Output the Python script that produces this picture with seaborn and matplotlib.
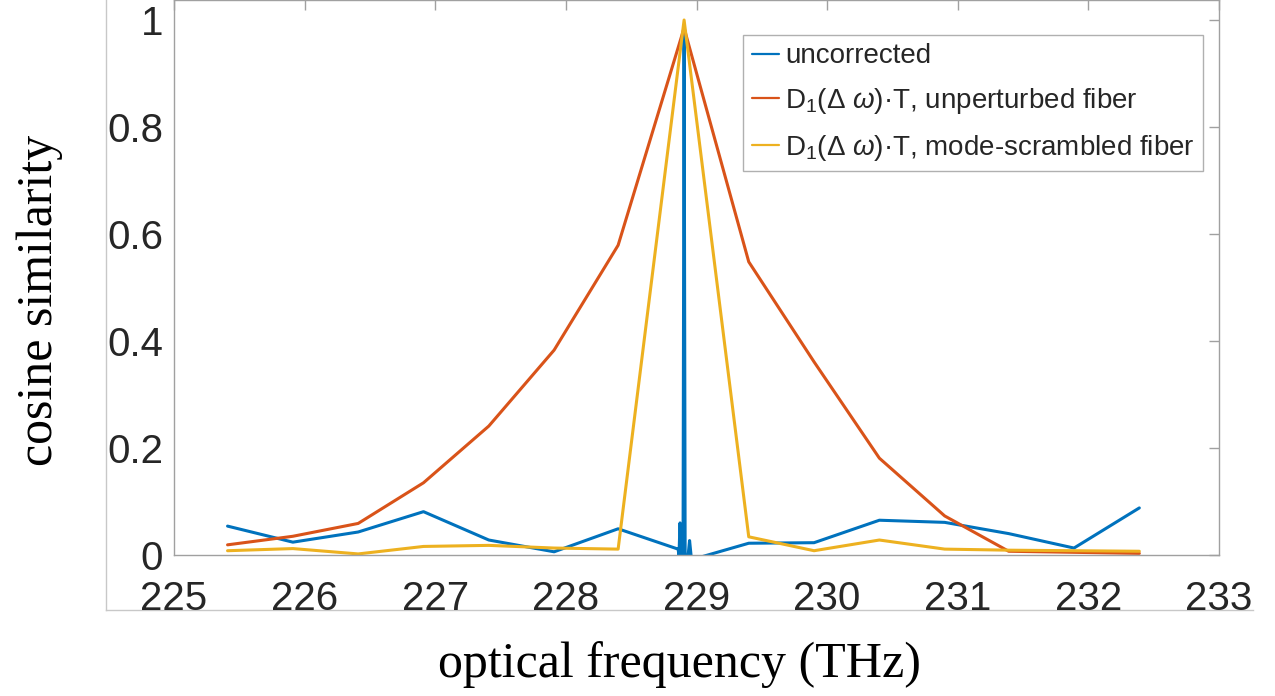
import numpy as np
import pandas as pd
import matplotlib
matplotlib.use("Agg")
import matplotlib.pyplot as plt
import seaborn as sns

# ---------------- data ----------------
freq = [225.41, 225.91, 226.41, 226.91, 227.41, 227.91, 228.40, 228.905,
        229.40, 229.90, 230.40, 230.90, 231.39, 231.89, 232.39]
unperturbed = [0.019, 0.035, 0.059, 0.135, 0.241, 0.383, 0.579, 0.985,
               0.548, 0.361, 0.181, 0.073, 0.007, 0.005, 0.003]
scrambled = [0.008, 0.012, 0.002, 0.016, 0.018, 0.013, 0.011, 1.0,
             0.034, 0.008, 0.028, 0.011, 0.009, 0.008, 0.007]

freq_unc = [225.41, 225.91, 226.41, 226.91, 227.41, 227.91, 228.40,
            228.859, 228.866, 228.874, 228.882, 228.897, 228.905, 228.913,
            228.936, 228.947, 228.958, 228.965, 229.03,
            229.40, 229.90, 230.40, 230.90, 231.39, 231.89, 232.39]
uncorrected = [0.054, 0.024, 0.043, 0.081, 0.028, 0.006, 0.049,
               0.011, 0.0, 0.060, 0.0, 0.0, 0.985, 0.0,
               0.0, 0.027, 0.0, -0.03, -0.004,
               0.022, 0.023, 0.065, 0.061, 0.040, 0.013, 0.088]

labels = ["uncorrected",
          r"D$_{\mathrm{1}}$(Δ $\omega$)·T, unperturbed fiber",
          r"D$_{\mathrm{1}}$(Δ $\omega$)·T, mode-scrambled fiber"]
colors = ["#0072BD", "#D95319", "#EDB120"]
xticks = [225, 226, 227, 228, 229, 230, 231, 232, 233]
yticks = [0, 0.2, 0.4, 0.6, 0.8, 1.0]
yticklabels = ["0", "0.2", "0.4", "0.6", "0.8", "1"]

# ---------------- style ----------------
sns.set_style("white")
plt.rcParams["font.family"] = ["Liberation Sans", "DejaVu Sans"]
plt.rcParams["mathtext.fontset"] = "custom"
plt.rcParams["mathtext.rm"] = "Liberation Sans"
plt.rcParams["mathtext.it"] = "Liberation Sans:italic"

df = pd.concat([
    pd.DataFrame({"freq": freq_unc, "sim": uncorrected, "series": labels[0]}),
    pd.DataFrame({"freq": freq, "sim": unperturbed, "series": labels[1]}),
    pd.DataFrame({"freq": freq, "sim": scrambled, "series": labels[2]}),
], ignore_index=True)

W, H = 1275, 696
fig = plt.figure(figsize=(W / 100, H / 100), dpi=100)

# outer box (L-shaped light frame)
outer = fig.add_axes([106 / W, 1 - 610 / H, (1253 - 106) / W, 610 / H + 0.01])
outer.set_xticks([])
outer.set_yticks([])
for s in ["top", "right"]:
    outer.spines[s].set_visible(False)
for s in ["left", "bottom"]:
    outer.spines[s].set_color("#c8c8c8")
    outer.spines[s].set_linewidth(1.0)
outer.patch.set_alpha(0)

ax = fig.add_axes([174 / W, 1 - 555 / H, (1219 - 174) / W, 555 / H])
ax.patch.set_alpha(0)
sns.lineplot(data=df, x="freq", y="sim", hue="series", hue_order=labels,
             palette=colors, estimator=None, sort=True, linewidth=2.2, ax=ax)

ax.set_xlim(225, 233)
ax.set_ylim(0, 555 / 535)
ax.set_xticks(xticks)
ax.set_xticklabels([str(t) for t in xticks])
ax.set_yticks(yticks)
ax.set_yticklabels(yticklabels)
for s in ax.spines.values():
    s.set_color("#a0a0a0")
    s.set_linewidth(1.0)
ax.tick_params(axis="both", direction="in", length=7, width=1, color="#a0a0a0",
               labelsize=29, labelcolor="#262626", top=True, right=True)
ax.tick_params(axis="x", pad=18)
ax.tick_params(axis="y", pad=8)
ax.set_xlabel("")
ax.set_ylabel("")

fig.text(679 / W, 1 - 665 / H, "optical frequency (THz)", family="Liberation Serif",
         fontsize=36, ha="center", va="center", color="black")
fig.text(40 / W, 1 - 300 / H, "cosine similarity", family="Liberation Serif",
         fontsize=36, ha="center", va="center", rotation=90, color="black")

handles, labs = ax.get_legend_handles_labels()
leg = ax.legend(handles, labs, loc="upper right",
                bbox_to_anchor=(1203 / W, 1 - 35 / H), bbox_transform=fig.transFigure,
                fontsize=20, frameon=True, fancybox=False, edgecolor="#b0b0b0",
                framealpha=1, handlelength=1.0, handletextpad=0.2, borderpad=0.3,
                labelspacing=0.6, borderaxespad=0)
leg.get_frame().set_linewidth(1.0)
for h in leg.get_lines():
    h.set_linewidth(1.6)

fig.savefig("out.png", dpi=100)
